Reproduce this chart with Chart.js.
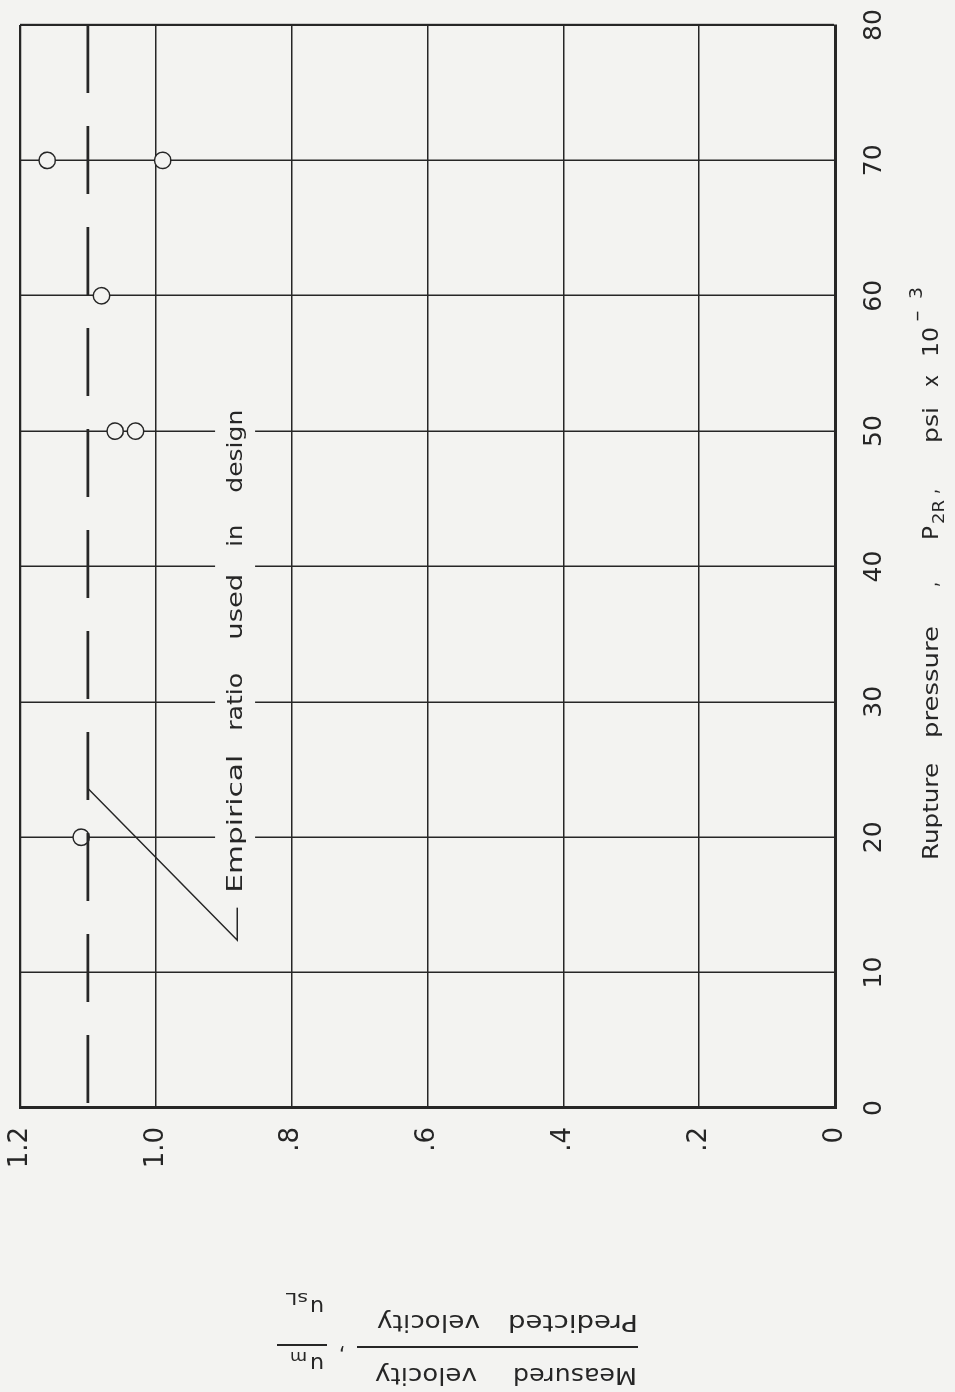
<!DOCTYPE html>
<html>
<head>
<meta charset="utf-8">
<script src="https://cdn.jsdelivr.net/npm/chart.js@4.4.1/dist/chart.umd.min.js"></script>
<style>
  html, body { margin: 0; padding: 0; background: #f3f3f1; overflow: hidden; }
  /* the figure is printed sideways: draw it upright, then turn it */
  #sheet {
    position: absolute; left: 0; top: 0; width: 1392px; height: 955px;
    transform-origin: 0 0; transform: translate(0px, 1392px) rotate(-90deg);
  }
</style>
</head>
<body>
<div id="sheet"><canvas id="chart" width="1392" height="955"></canvas></div>
<script>
const pressureTicks = [0, 10, 20, 30, 40, 50, 60, 70, 80];
const ratioTicks = [0, 0.2, 0.4, 0.6, 0.8, 1.0, 1.2];
const ratioTickLabels = ["0", ".2", ".4", ".6", ".8", "1.0", "1.2"];

// measured / predicted velocity for each test
const testPressure = [20, 50, 50, 60, 70, 70];
const testRatio = [1.11, 1.06, 1.03, 1.08, 1.16, 0.99];

const designRatio = 1.1;

// leader from the note to the design line
const leaderPressure = [23.6, 12.4, 14.8];
const leaderRatio = [1.1, 0.88, 0.88];
const notePressure = 15.9;
const noteRatio = 0.873;
const noteWords = ["Empirical", "ratio", "used", "in", "design"];

const BG = "#f3f3f1";
const INK = "#262626";
const FONT = "'DejaVu Sans', sans-serif";

const tests = testPressure.map((p, i) => ({ x: p, y: testRatio[i] }));
const leader = leaderPressure.map((p, i) => ({ x: p, y: leaderRatio[i] }));

// stencil lettering is wide, so each word is stretched to the width it has in the print
const fitWord = (ctx, text, size, x, y, width) => {
  ctx.font = `${size}px ${FONT}`;
  const w = ctx.measureText(text).width;
  ctx.save();
  ctx.translate(x, y);
  ctx.scale(width / w, 1);
  ctx.fillText(text, 0, 0);
  ctx.restore();
};

const overlay = {
  id: "overlay",
  beforeDatasetsDraw(chart) {
    const { ctx, scales: { x, y } } = chart;
    const px = x.getPixelForValue(notePressure);
    const py = y.getPixelForValue(noteRatio);
    ctx.save();
    ctx.fillStyle = BG;
    ctx.fillRect(px - 12, py - 27, 505, 40);
    ctx.restore();
  },
  afterDatasetsDraw(chart) {
    const { ctx, scales: { x, y } } = chart;
    const px = x.getPixelForValue(notePressure);
    const py = y.getPixelForValue(noteRatio);
    const offsets = [0, 162, 253, 346, 400];
    const widths = [138, 58, 66, 22, 83];
    ctx.save();
    ctx.fillStyle = INK;
    noteWords.forEach((w, i) => fitWord(ctx, w, 21, px + offsets[i], py, widths[i]));
    ctx.restore();
  },
  afterDraw(chart) {
    const { ctx } = chart;
    ctx.save();
    ctx.fillStyle = INK;
    ctx.strokeStyle = INK;

    // x title: Rupture pressure , P2R, psi x 10^-3
    const base = 938;
    fitWord(ctx, "Rupture", 21, 532, base, 97);
    fitWord(ctx, "pressure", 21, 654, base, 112);
    fitWord(ctx, ",", 21, 805, base, 5);
    fitWord(ctx, "P", 21, 852, base, 14);
    fitWord(ctx, "2R", 16, 868, base + 6, 24);
    fitWord(ctx, ",", 21, 898, base, 5);
    fitWord(ctx, "psi", 21, 949, base, 36);
    fitWord(ctx, "x", 21, 1005, base, 12);
    fitWord(ctx, "10", 21, 1035, base, 30);
    fitWord(ctx, "-", 17, 1070, base - 16, 12);
    fitWord(ctx, "3", 17, 1093, base - 16, 12);

    // y title, turned to read upwards
    ctx.translate(45, 457);
    ctx.rotate(-Math.PI / 2);
    fitWord(ctx, "Measured", 23, -180, -21, 124);
    fitWord(ctx, "velocity", 23, -20, -21, 102);
    fitWord(ctx, "Predicted", 23, -181, 32, 130);
    fitWord(ctx, "velocity", 23, -23, 32, 103);
    ctx.lineWidth = 2;
    ctx.beginPath();
    ctx.moveTo(-181, 0); ctx.lineTo(100, 0);
    ctx.moveTo(130, 2); ctx.lineTo(180, 2);
    ctx.stroke();
    fitWord(ctx, ",", 23, 112, -2, 6);
    fitWord(ctx, "u", 21, 133, -10, 14);
    fitWord(ctx, "m", 16, 150, -5, 17);
    fitWord(ctx, "u", 21, 133, 47, 14);
    fitWord(ctx, "sL", 16, 149, 54, 22);
    ctx.restore();
  },
};

Chart.defaults.font.family = FONT;

new Chart(document.getElementById("chart"), {
  type: "scatter",
  data: {
    datasets: [
      {
        label: "Empirical ratio used in design",
        data: [{ x: 80, y: designRatio }, { x: 0, y: designRatio }],
        showLine: true,
        borderColor: INK,
        borderWidth: 2.6,
        borderDash: [68, 33],
        pointRadius: 0,
      },
      {
        label: "leader",
        data: leader,
        showLine: true,
        borderColor: INK,
        borderWidth: 1.5,
        pointRadius: 0,
      },
      {
        label: "tests",
        data: tests,
        pointStyle: "circle",
        pointRadius: 8.2,
        borderWidth: 1.5,
        borderColor: INK,
        backgroundColor: BG,
      },
    ],
  },
  options: {
    responsive: false,
    animation: false,
    devicePixelRatio: 1,
    layout: { padding: { top: 20, right: 25, left: 0, bottom: 0 } },
    plugins: { legend: { display: false }, tooltip: { enabled: false } },
    scales: {
      x: {
        type: "linear",
        min: 0,
        max: 80,
        afterBuildTicks: (s) => { s.ticks = pressureTicks.map((v) => ({ value: v })); },
        afterFit: (s) => { s.height = 120; s.paddingLeft = 0; s.paddingRight = 0; },
        ticks: { padding: 24, maxRotation: 0, color: INK, font: { size: 25 }, callback: (v) => String(v) },
        grid: { color: INK, drawTicks: false, lineWidth: (c) => (c.tick && c.tick.value === 80 ? 2.2 : 1.5) },
        border: { color: INK, width: 3 },
      },
      y: {
        type: "linear",
        min: 0,
        max: 1.2,
        afterBuildTicks: (s) => { s.ticks = ratioTicks.map((v) => ({ value: v })); },
        afterFit: (s) => { s.width = 284; s.paddingTop = 0; s.paddingBottom = 0; },
        ticks: { padding: 19, color: INK, font: { size: 26 }, callback: (v, i) => ratioTickLabels[i] },
        grid: { color: INK, drawTicks: false, lineWidth: (c) => (c.tick && c.tick.value === 1.2 ? 2.2 : 1.5) },
        border: { color: INK, width: 3 },
      },
    },
  },
  plugins: [overlay],
});
</script>
</body>
</html>
